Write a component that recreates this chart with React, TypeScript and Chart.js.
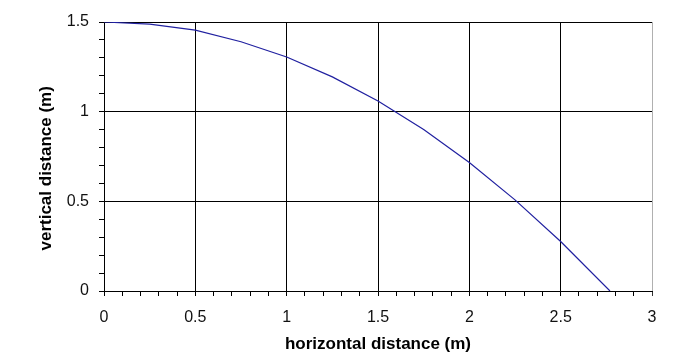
import React, { useEffect, useRef } from "react";
import { Chart, registerables } from "chart.js";

Chart.register(...registerables);

const xValues = [0, 0.25, 0.5, 0.75, 1, 1.25, 1.5, 1.75, 2, 2.25, 2.5, 2.77];
const yValues = [1.5, 1.488, 1.455, 1.39, 1.305, 1.194, 1.06, 0.9, 0.716, 0.508, 0.276, 0];
const xTitle = "horizontal distance (m)";
const yTitle = "vertical distance (m)     ";

const isMajor = (v: number) => Math.abs(v * 2 - Math.round(v * 2)) < 1e-6;
const fmt = (v: number) => (isMajor(v) ? String(Math.round(v * 2) / 2) : "");

export default function App() {
  const ref = useRef<HTMLCanvasElement>(null);
  useEffect(() => {
    if (!ref.current) return;
    const chart = new Chart(ref.current, {
      type: "scatter",
      data: {
        datasets: [
          {
            data: xValues.map((x, i) => ({ x, y: yValues[i] })),
            showLine: true,
            borderColor: "#2020a0",
            borderWidth: 1.2,
            pointRadius: 0,
            tension: 0,
          },
        ],
      },
      options: {
        animation: false,
        responsive: false,
        maintainAspectRatio: false,
        layout: { padding: { left: 0, right: 32, top: 22, bottom: 0 } },
        plugins: { legend: { display: false }, tooltip: { enabled: false } },
        scales: {
          x: {
            type: "linear",
            min: 0,
            max: 3,
            afterFit: (s: any) => {
              s.height = 73;
            },
            afterBuildTicks: (s: any) => {
              const t = [];
              for (let i = 0; i <= 30; i++) t.push({ value: i / 10 });
              s.ticks = t;
            },
            ticks: {
              autoSkip: false,
              maxRotation: 0,
              padding: 12,
              color: "#111",
              font: { family: "Arial, 'Liberation Sans'", size: 16 },
              callback: (v: any) => fmt(Number(v)),
            },
            grid: {
              color: (c: any) =>
                c.tick && isMajor(c.tick.value)
                  ? Math.abs(c.tick.value - 3) < 1e-6
                    ? "#b0b0b0"
                    : "#000"
                  : "rgba(0,0,0,0)",
              tickColor: (c: any) => (c.tick && Math.abs(c.tick.value - 3) < 1e-6 ? "#333" : "#000"),
              tickLength: 5,
              lineWidth: 1,
            },
            border: { color: "#000", width: 1 },
            title: {
              display: true,
              text: xTitle,
              color: "#000",
              font: { family: "Arial, 'Liberation Sans'", size: 17, weight: "bold", lineHeight: 1.2 },
              padding: { top: 0, bottom: 9 },
            },
          },
          y: {
            type: "linear",
            min: 0,
            max: 1.5,
            afterFit: (s: any) => {
              s.width = 104;
            },
            afterBuildTicks: (s: any) => {
              const t = [];
              for (let i = 0; i <= 15; i++) t.push({ value: i / 10 });
              s.ticks = t;
            },
            ticks: {
              autoSkip: false,
              padding: 10,
              color: "#111",
              font: { family: "Arial, 'Liberation Sans'", size: 16 },
              callback: (v: any) => fmt(Number(v)),
            },
            grid: {
              color: (c: any) => (c.tick && isMajor(c.tick.value) ? "#000" : "rgba(0,0,0,0)"),
              tickColor: "#000",
              tickLength: 5,
              lineWidth: 1,
            },
            border: { color: "#000", width: 1 },
            title: {
              display: true,
              text: yTitle,
              color: "#000",
              font: { family: "Arial, 'Liberation Sans'", size: 17, weight: "bold", lineHeight: 1.2 },
              padding: { top: 36, bottom: 0 },
            },
          },
        },
      },
    });
    return () => chart.destroy();
  }, []);
  return (
    <div style={{ position: "fixed", left: 0, top: 0, width: 684, height: 364, background: "#fff" }}>
      <canvas ref={ref} width={684} height={364} style={{ width: 684, height: 364, display: "block" }} />
    </div>
  );
}
